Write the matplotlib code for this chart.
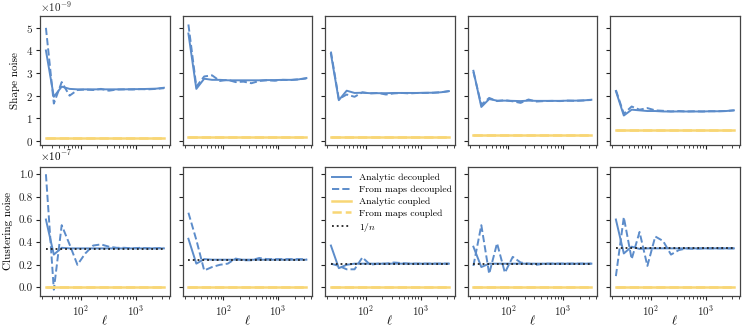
import numpy as np
import matplotlib
matplotlib.use("Agg")
import matplotlib.pyplot as plt

plt.rcParams.update({
    "font.family": "serif",
    "font.serif": ["cmr10", "DejaVu Serif"],
    "mathtext.fontset": "cm",
    "axes.formatter.use_mathtext": True,
    "font.size": 8,
    "axes.linewidth": 0.9,
    "axes.edgecolor": "#444444",
    "xtick.color": "#222222",
    "ytick.color": "#222222",
    "xtick.labelsize": 8,
    "ytick.labelsize": 8,
    "xtick.major.size": 3,
    "ytick.major.size": 3,
    "xtick.minor.size": 1.8,
    "xtick.major.pad": 2,
    "ytick.major.pad": 2,
})

ell = [23.4, 32.6, 45.3, 63.0, 87.5, 121.6, 169, 235, 327, 454, 631, 877, 1219, 1694, 2355, 3273]

# Shape noise (x1e-9)
shape_analytic_dec = [
    [4.0, 1.95, 2.4, 2.3, 2.28, 2.28, 2.28, 2.28, 2.28, 2.28, 2.28, 2.29, 2.29, 2.3, 2.31, 2.35],
    [4.75, 2.3, 2.75, 2.7, 2.7, 2.68, 2.68, 2.68, 2.68, 2.68, 2.69, 2.69, 2.7, 2.7, 2.72, 2.78],
    [3.85, 1.8, 2.22, 2.12, 2.13, 2.11, 2.11, 2.11, 2.12, 2.12, 2.12, 2.12, 2.13, 2.13, 2.15, 2.2],
    [3.1, 1.5, 1.85, 1.78, 1.78, 1.77, 1.76, 1.78, 1.77, 1.77, 1.77, 1.77, 1.78, 1.78, 1.79, 1.82],
    [2.2, 1.12, 1.38, 1.35, 1.32, 1.32, 1.3, 1.3, 1.3, 1.3, 1.3, 1.3, 1.31, 1.31, 1.32, 1.35],
]
shape_maps_dec = [
    [5.0, 1.65, 2.6, 2.0, 2.25, 2.27, 2.25, 2.3, 2.22, 2.27, 2.28, 2.27, 2.29, 2.28, 2.3, 2.33],
    [5.15, 2.4, 2.85, 2.9, 2.65, 2.7, 2.6, 2.62, 2.55, 2.65, 2.68, 2.66, 2.7, 2.69, 2.72, 2.76],
    [3.95, 1.85, 2.05, 1.95, 2.15, 2.1, 2.12, 2.05, 2.1, 2.12, 2.1, 2.12, 2.12, 2.13, 2.15, 2.2],
    [3.05, 1.6, 1.9, 1.76, 1.8, 1.75, 1.68, 1.83, 1.74, 1.76, 1.77, 1.76, 1.78, 1.77, 1.79, 1.81],
    [2.25, 1.2, 1.52, 1.38, 1.45, 1.35, 1.33, 1.3, 1.32, 1.3, 1.31, 1.3, 1.31, 1.31, 1.32, 1.35],
]
shape_coupled = [0.13, 0.15, 0.16, 0.28, 0.49]

# Clustering noise (x1e-7)
clust_analytic_dec = [
    [0.6, 0.29, 0.35, 0.345, 0.345, 0.345, 0.345, 0.345, 0.345, 0.345, 0.345, 0.345, 0.345, 0.345, 0.345, 0.345],
    [0.43, 0.21, 0.25, 0.245, 0.245, 0.245, 0.245, 0.245, 0.245, 0.245, 0.245, 0.245, 0.245, 0.245, 0.245, 0.245],
    [0.37, 0.17, 0.2, 0.21, 0.21, 0.21, 0.21, 0.21, 0.21, 0.21, 0.21, 0.21, 0.21, 0.21, 0.21, 0.21],
    [0.36, 0.18, 0.21, 0.21, 0.21, 0.21, 0.21, 0.21, 0.21, 0.21, 0.21, 0.21, 0.21, 0.21, 0.21, 0.21],
    [0.6, 0.3, 0.36, 0.34, 0.345, 0.345, 0.345, 0.345, 0.345, 0.345, 0.345, 0.345, 0.345, 0.345, 0.345, 0.345],
]
clust_maps_dec = [
    [1.0, -0.02, 0.55, 0.38, 0.2, 0.3, 0.37, 0.38, 0.36, 0.35, 0.35, 0.345, 0.35, 0.345, 0.345, 0.35],
    [0.66, 0.42, 0.15, 0.18, 0.2, 0.21, 0.255, 0.24, 0.24, 0.26, 0.25, 0.25, 0.25, 0.25, 0.25, 0.25],
    [0.21, 0.19, 0.16, 0.16, 0.265, 0.2, 0.21, 0.21, 0.22, 0.215, 0.21, 0.21, 0.21, 0.21, 0.21, 0.21],
    [0.19, 0.55, 0.12, 0.39, 0.13, 0.27, 0.22, 0.21, 0.2, 0.21, 0.21, 0.21, 0.21, 0.21, 0.21, 0.21],
    [0.1, 0.62, 0.25, 0.49, 0.19, 0.45, 0.41, 0.29, 0.33, 0.345, 0.34, 0.345, 0.345, 0.345, 0.345, 0.345],
]
clust_coupled = [0.003, 0.003, 0.003, 0.003, 0.003]
inv_n = [0.34, 0.24, 0.21, 0.21, 0.345]

BLUE = "#5c8cca"
YELLOW = "#f8d675"

fig, axes = plt.subplots(2, 5, figsize=(7.48, 3.31), dpi=100, sharex=True, sharey="row")
fig.subplots_adjust(left=0.0535, right=0.989, top=0.952, bottom=0.106, wspace=0.098, hspace=0.17)

for i in range(5):
    ax = axes[0, i]
    ax.plot(ell, np.array(shape_analytic_dec[i]) * 1e-9, color=BLUE, lw=1.4, ls="-")
    ax.plot(ell, np.array(shape_maps_dec[i]) * 1e-9, color=BLUE, lw=1.4, ls="--")
    ax.plot(ell, np.array([shape_coupled[i]] * len(ell)) * 1e-9, color=YELLOW, lw=1.8, ls="-")
    ax.plot(ell, np.array([shape_coupled[i]] * len(ell)) * 1e-9, color=YELLOW, lw=1.8, ls="--")

    ax = axes[1, i]
    l1, = ax.plot(ell, np.array(clust_analytic_dec[i]) * 1e-7, color=BLUE, lw=1.4, ls="-", label="Analytic decoupled")
    l2, = ax.plot(ell, np.array(clust_maps_dec[i]) * 1e-7, color=BLUE, lw=1.4, ls="--", label="From maps decoupled")
    l3, = ax.plot(ell, np.array([clust_coupled[i]] * len(ell)) * 1e-7, color=YELLOW, lw=1.8, ls="-", label="Analytic coupled")
    l4, = ax.plot(ell, np.array([clust_coupled[i]] * len(ell)) * 1e-7, color=YELLOW, lw=1.8, ls="--", label="From maps coupled")
    l5, = ax.plot(ell, np.array([inv_n[i]] * len(ell)) * 1e-7, color="#222222", lw=1.3, ls=":", label=r"$1/n$")
    ax.set_xlabel(r"$\ell$", fontsize=9, labelpad=-3)

for ax in axes.flat:
    ax.set_xscale("log")

axes[0, 0].set_ylim(-0.18e-9, 5.53e-9)
axes[0, 0].set_yticks(np.arange(0, 6) * 1e-9)
axes[1, 0].set_ylim(-0.075e-7, 1.065e-7)
axes[1, 0].set_yticks(np.arange(0, 1.01, 0.2) * 1e-7)
axes[1, 0].yaxis.set_major_formatter(matplotlib.ticker.FuncFormatter(lambda v, p: f"{v*1e7:.1f}"))
axes[1, 0].annotate(r"$\times10^{-7}$", xy=(0, 1), xycoords="axes fraction", xytext=(0, 3),
                    textcoords="offset points", ha="left", va="bottom", fontsize=8)
axes[0, 0].set_ylabel("Shape noise", fontsize=8)
axes[1, 0].set_ylabel("Clustering noise", fontsize=8)

axes[1, 2].legend(handles=[l1, l2, l3, l4, l5], loc="upper left", frameon=False, fontsize=7,
                  handlelength=2.0, handletextpad=0.75, labelspacing=0.3, borderaxespad=0.3)

fig.savefig("out.png", dpi=100)
